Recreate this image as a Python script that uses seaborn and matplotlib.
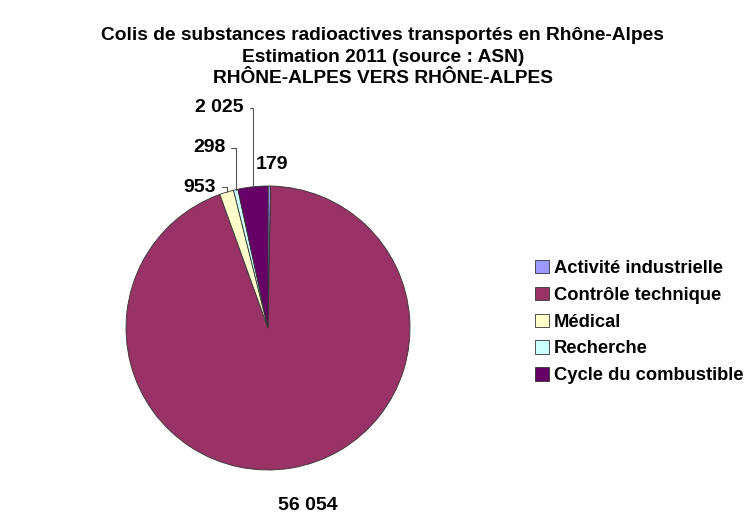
import matplotlib
matplotlib.use("Agg")
import matplotlib.pyplot as plt
import seaborn as sns
import numpy as np

# Data
categories = ["Activité industrielle", "Contrôle technique", "Médical", "Recherche", "Cycle du combustible"]
values = [179, 56054, 953, 298, 2025]
value_labels = ["179", "56 054", "953", "298", "2 025"]
colors = ["#9999FF", "#993366", "#FFFFCC", "#CCFFFF", "#660066"]

sns.set_theme(style="white")
plt.rcParams["font.family"] = ["Liberation Sans", "DejaVu Sans"]
plt.rcParams["text.color"] = "black"

fig = plt.figure(figsize=(7.49, 5.28), dpi=100)
# pie centered at about (268, 328) px, radius ~142 px
ax = fig.add_axes([(268 - 142) / 749, (200 - 142) / 528, 284 / 749, 284 / 528])
wedges, _ = ax.pie(values, colors=colors, startangle=90, counterclock=False,
                   radius=1.0, wedgeprops=dict(edgecolor="#333333", linewidth=0.6))
ax.set_xlim(-1, 1)
ax.set_ylim(-1, 1)
ax.set_aspect("equal")
ax.axis("off")

# label placement (pie-radius units), leader only for the small left slices
label_pos = {
    "179": ((0.03, 1.15), "center", False),
    "56 054": ((0.28, -1.25), "center", False),
    "953": ((-0.37, 0.99), "right", True),
    "298": ((-0.30, 1.27), "right", True),
    "2 025": ((-0.17, 1.55), "right", True),
}
for w, lab in zip(wedges, value_labels):
    (tx, ty), ha, leader = label_pos[lab]
    mid = np.deg2rad((w.theta1 + w.theta2) / 2)
    px, py = np.cos(mid), np.sin(mid)
    if leader:
        ax.annotate(lab, xy=(px, py), xytext=(tx, ty), ha=ha, va="center",
                    fontsize=14, fontweight="bold", annotation_clip=False,
                    arrowprops=dict(arrowstyle="-", color="#555555", lw=0.8,
                                    connectionstyle="angle,angleA=0,angleB=90,rad=0",
                                    shrinkA=2, shrinkB=0))
    else:
        ax.text(tx, ty, lab, ha=ha, va="center", fontsize=14, fontweight="bold")

fig.text(0.511, 0.892, "Colis de substances radioactives transportés en Rhône-Alpes\n"
         "Estimation 2011 (source : ASN)\nRHÔNE-ALPES VERS RHÔNE-ALPES",
         ha="center", va="center", fontsize=13.8, fontweight="bold", linespacing=1.35)

fig.legend(wedges, categories, loc="center left", bbox_to_anchor=(0.702, 0.39),
           frameon=False, prop=dict(size=13.2, weight="bold"), handlelength=0.75,
           handleheight=0.75, handletextpad=0.3, labelspacing=0.53, borderpad=0)

fig.savefig("out.png", dpi=100, facecolor="white")
